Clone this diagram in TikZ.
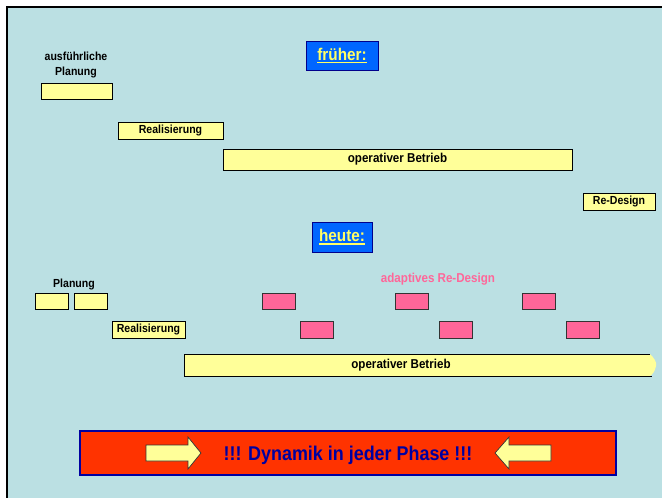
\documentclass[tikz,border=0pt]{standalone}
\usepackage{fontspec}
\setmainfont[FakeStretch=0.9]{Liberation Sans}
\usepackage{tikz}
\usetikzlibrary{calc}
\newcommand*{\px}{0.03cm}
\definecolor{bgblue}{RGB}{187,224,227}
\definecolor{barfill}{RGB}{255,255,153}
\definecolor{pinkfill}{RGB}{255,102,153}
\definecolor{hdblue}{RGB}{0,102,255}
\definecolor{hdborder}{RGB}{0,0,140}
\definecolor{hdtext}{RGB}{255,255,102}
\definecolor{redfill}{RGB}{255,51,0}
\definecolor{dynblue}{RGB}{0,0,160}
\tikzset{
    bar/.style   = {draw=black, fill=barfill, line width=0.7pt, inner sep=0pt, font=\bfseries\fontsize{10}{12}\selectfont},
    pinkbar/.style = {draw=black!80, fill=pinkfill, line width=0.7pt, inner sep=0pt, minimum width=33*\px},
    hdbox/.style = {draw=hdborder, fill=hdblue, line width=0.8pt, inner sep=0pt},
    hdlbl/.style = {text=hdtext, inner sep=0pt, font=\bfseries\fontsize{14.5}{16}\selectfont},
    ulline/.style = {draw=hdtext, line width=1.3pt},
    lbl/.style   = {inner sep=0pt, align=center, font=\bfseries\fontsize{10}{12.5}\selectfont},
    arr/.style   = {draw=black!80, fill=barfill, line width=0.6pt}
}
\begin{document}
\begin{tikzpicture}[x=\px, y=-\px]
    \useasboundingbox (0,0) rectangle (662,498);
    \fill [bgblue] (7,7) rectangle (662,498);
    \draw [line width=1.6pt] (662,7) -- (7,7) -- (7,498);
    % frueher
    \node [hdbox, minimum width=72*\px, minimum height=29*\px] (frueher) at (342,55.5) {};
    \node [hdlbl] (fruehertxt) at (342,54) {früher:};
    \draw [ulline] ([yshift=-2.2pt]fruehertxt.base west) -- ([yshift=-2.2pt]fruehertxt.base east);
    \node [lbl] (planAtxt) at (76,65) {ausführliche\\Planung};
    \node [bar, minimum width=71*\px, minimum height=16*\px] (planA) at (76.5,91) {};
    \node [bar, minimum width=105*\px, minimum height=17*\px] (realA) at (170.5,130.5) {Realisierung};
    \node [bar, minimum width=349*\px, minimum height=21*\px, font=\bfseries\fontsize{11}{13}\selectfont] (betrA) at (397.5,159.5) {operativer Betrieb};
    \node [bar, minimum width=72*\px, minimum height=17*\px] (redesA) at (619,201.5) {Re-Design};
    % heute
    \node [hdbox, minimum width=60*\px, minimum height=30*\px] (heute) at (342,237) {};
    \node [hdlbl] (heutetxt) at (342,235.5) {heute:};
    \draw [ulline] ([yshift=-2.2pt]heutetxt.base west) -- ([yshift=-2.2pt]heutetxt.base east);
    \node [lbl] (planBtxt) at (74,284) {Planung};
    \node [bar, minimum width=33*\px, minimum height=16*\px] (planB1) at (51.5,301) {};
    \node [bar, minimum width=33*\px, minimum height=16*\px] (planB2) at (90.5,301) {};
    \node [bar, minimum width=73*\px, minimum height=17*\px] (realB) at (148.5,329.5) {Realisierung};
    \node [lbl, text=pinkfill, font=\bfseries\fontsize{11}{13}\selectfont] (adaptxt) at (438,279) {adaptives Re-Design};
    \foreach \xa/\xb [count=\i] in {278.5/317, 411.5/455.5, 538.5/582.5} {
        \node [pinkbar, minimum height=16*\px] (adapA\i) at (\xa,301) {};
        \node [pinkbar, minimum height=17*\px] (adapB\i) at (\xb,329.5) {};
    }
    \fill [barfill] (184,354) -- (650,354) .. controls (654,358) and (657,362) .. (656,366) .. controls (655,371) and (653,374) .. (650,376) -- (184,376) -- cycle;
    \draw [line width=0.7pt] (650,354) -- (184,354) -- (184,376) -- (652,376);
    \node [lbl, font=\bfseries\fontsize{11}{13}\selectfont] (betrB) at (401,365) {operativer Betrieb};
    % Dynamik
    \node [draw=dynblue, fill=redfill, line width=1.4pt, minimum width=536*\px, minimum height=44*\px, inner sep=0pt] (dyn) at (348,453) {};
    \node [inner sep=0pt, text=dynblue, font=\bfseries\fontsize{17}{20}\selectfont] (dyntxt) at (348,455) {!!! Dynamik in jeder Phase !!!};
    \draw [arr] (146,445) -- (188,445) -- (188,437) -- (201,453) -- (188,469) -- (188,461) -- (146,461) -- cycle;
    \draw [arr] (551,445) -- (509,445) -- (509,437) -- (495,453) -- (509,469) -- (509,461) -- (551,461) -- cycle;
\end{tikzpicture}
\end{document}
